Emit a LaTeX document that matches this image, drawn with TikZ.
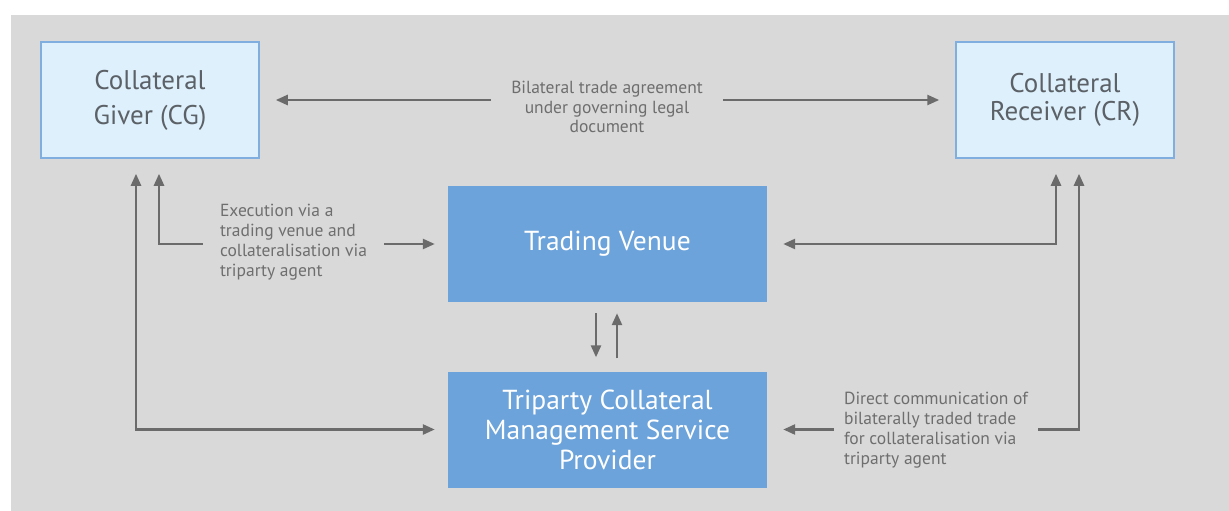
\documentclass[tikz,border=0pt]{standalone}
\usepackage{fontspec}
\setmainfont{PT Sans}
\usetikzlibrary{arrows.meta,calc,positioning}
\definecolor{flowgray}{HTML}{6B6B6B}
\definecolor{labelgray}{HTML}{6E6E6E}
\definecolor{panelgray}{HTML}{D9D9D9}
\definecolor{partyline}{HTML}{7FAEDF}
\definecolor{partyfill}{HTML}{DEF0FC}
\definecolor{venuefill}{HTML}{6CA3DA}
\definecolor{partyink}{HTML}{5B6166}
\tikzset{
  partybox/.style={draw=partyline, fill=partyfill, line width=1.5pt,
    minimum width=218pt, minimum height=116pt, align=center,
    text=partyink, font=\fontsize{27}{35}\selectfont},
  venuebox/.style={fill=venuefill, minimum width=319pt,
    minimum height=116pt, align=center, text=white,
    font=\fontsize{27.5}{30}\selectfont},
  flowlabel/.style={font=\fontsize{17.5}{19.8}\selectfont, text=labelgray,
    inner ysep=0pt},
  flow/.style={draw=flowgray, line width=2.5pt},
  >={Triangle[length=12pt,width=10pt]}
}

\begin{document}
\begin{tikzpicture}[x=1pt,y=-1pt]
  \useasboundingbox (0,0) rectangle (1229,511);
  \fill[white] (0,0) rectangle (1229,511);
  \fill[panelgray] (11,15) rectangle (1229,511);

  % parties and service nodes
  \node[partybox] (cg) at (150,100) {Collateral\\Giver (CG)};
  \node[partybox, font=\fontsize{27}{28}\selectfont] (cr) at (1065,100)
    {Collateral\\Receiver (CR)};
  \node[venuebox] (tv) at (607.5,244) {Trading Venue};
  \node[venuebox] (tcm) at (607.5,429.5)
    {Triparty Collateral\\Management Service\\Provider};

  % labels
  \node[flowlabel, align=center, inner xsep=20pt] (toplabel) at (607,107)
    {Bilateral trade agreement\\under governing legal\\document};
  \node[flowlabel, align=left, inner xsep=17pt] (exlabel) at (293.5,242)
    {Execution via a\\trading venue and\\collateralisation via\\triparty agent};
  \node[flowlabel, align=left, inner xsep=10pt] (dclabel) at (936,430)
    {Direct communication of\\bilaterally traded trade\\for collateralisation via\\triparty agent};

  % bilateral agreement
  \draw[flow, ->, shorten >=16pt] (toplabel.west |- cg.east) -- (cg.east);
  \draw[flow, ->, shorten >=16pt] (toplabel.east |- cr.west) -- (cr.west);

  % giver side
  \draw[flow, <->, shorten <=15pt, shorten >=13pt]
    ([xshift=-14pt]cg.south) |- (tcm.west);
  \draw[flow, <-, shorten <=15pt]
    ([xshift=9pt]cg.south) |- (exlabel.west |- tv.west);
  \draw[flow, ->, shorten >=13pt] (exlabel.east |- tv.west) -- (tv.west);

  % receiver side
  \draw[flow, <->, shorten <=15pt, shorten >=16pt]
    ([xshift=-9pt]cr.south) |- (tv.east);
  \draw[flow, <-, shorten <=15pt]
    ([xshift=14pt]cr.south) |- (dclabel.east |- tcm.east);
  \draw[flow, ->, shorten >=16pt] (dclabel.west |- tcm.east) -- (tcm.east);

  % venue and triparty agent
  \draw[flow, ->, shorten <=11pt, shorten >=14pt]
    ([xshift=-11.5pt]tv.south) -- ([xshift=-11.5pt]tcm.north);
  \draw[flow, ->, shorten <=13pt, shorten >=11pt]
    ([xshift=9.5pt]tcm.north) -- ([xshift=9.5pt]tv.south);
\end{tikzpicture}
\end{document}
